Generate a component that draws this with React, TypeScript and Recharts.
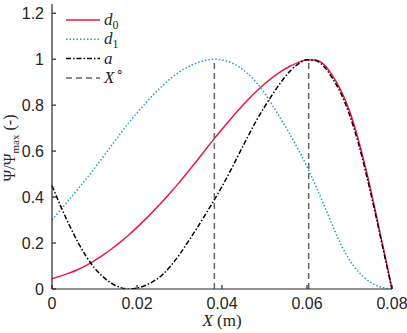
import React from "react";
import { LineChart, Line, XAxis, YAxis, ReferenceLine } from "recharts";

const X_VALUES = [
  0, 0.002, 0.004, 0.006, 0.008, 0.01, 0.012, 0.014, 0.016, 0.018, 0.02, 0.022, 0.024, 0.026,
  0.028, 0.03, 0.032, 0.034, 0.036, 0.038, 0.04, 0.042, 0.044, 0.046, 0.048, 0.05, 0.052, 0.054,
  0.056, 0.058, 0.06, 0.062, 0.064, 0.066, 0.068, 0.07, 0.072, 0.074, 0.076, 0.078, 0.08,
];
const D0 = [
  0.045, 0.056, 0.069, 0.084, 0.102, 0.123, 0.147, 0.174, 0.203, 0.234, 0.268, 0.304, 0.342, 0.381,
  0.422, 0.465, 0.51, 0.556, 0.603, 0.65, 0.695, 0.739, 0.781, 0.821, 0.858, 0.892, 0.922, 0.948,
  0.969, 0.986, 0.997, 0.996, 0.976, 0.928, 0.863, 0.775, 0.655, 0.51, 0.347, 0.175, 0,
];
const D1 = [
  0.3, 0.344, 0.388, 0.433, 0.478, 0.525, 0.574, 0.624, 0.674, 0.722, 0.766, 0.808, 0.848, 0.884,
  0.917, 0.945, 0.966, 0.983, 0.994, 1.0, 0.997, 0.986, 0.966, 0.938, 0.9, 0.852, 0.796, 0.736,
  0.673, 0.605, 0.532, 0.45, 0.365, 0.277, 0.193, 0.127, 0.077, 0.042, 0.018, 0.005, 0,
];
const A = [
  0.45, 0.362, 0.281, 0.207, 0.143, 0.092, 0.053, 0.025, 0.007, 0.0, 0.004, 0.016, 0.035, 0.062,
  0.102, 0.15, 0.205, 0.262, 0.321, 0.382, 0.446, 0.515, 0.588, 0.66, 0.73, 0.792, 0.85, 0.903,
  0.948, 0.98, 0.997, 0.994, 0.968, 0.916, 0.85, 0.758, 0.64, 0.495, 0.335, 0.165, 0,
];
const X_CIRC = [0.0382, 0.0604];
const X_TICKS = [0, 0.02, 0.04, 0.06, 0.08];
const Y_TICKS = [0, 0.2, 0.4, 0.6, 0.8, 1, 1.2];

const data = X_VALUES.map((x, i) => ({ x, d0: D0[i], d1: D1[i], a: A[i] }));

const AXIS = "#262626";
const RED = "#e8184a";
const BLUE = "#1d9fd0";
const GREY = "#666666";
const SANS = "'Liberation Sans', Arial, sans-serif";
const SERIF = "'Liberation Serif', 'Times New Roman', serif";

const BottomTick = ({ x, y, payload }: any) => (
  <g>
    <line x1={x} x2={x} y1={y} y2={y - 4} stroke={AXIS} strokeWidth={1.2} />
    <text x={x} y={y + 20} textAnchor="middle" fontFamily={SANS} fontSize={16} fill={AXIS}>
      {payload.value}
    </text>
  </g>
);

const TopTick = ({ x, y }: any) => (
  <line x1={x} x2={x} y1={y} y2={y + 4} stroke={AXIS} strokeWidth={1.2} />
);

const LeftTick = ({ x, y, payload }: any) => (
  <g>
    <line x1={x} x2={x + 4} y1={y} y2={y} stroke={AXIS} strokeWidth={1.2} />
    <text x={x - 8} y={y} dy="0.36em" textAnchor="end" fontFamily={SANS} fontSize={16} fill={AXIS}>
      {payload.value}
    </text>
  </g>
);

const RightTick = ({ x, y }: any) => (
  <line x1={x} x2={x - 4} y1={y} y2={y} stroke={AXIS} strokeWidth={1.2} />
);

const YLabel = () => (
  <text
    transform="translate(15,148) rotate(-90)"
    textAnchor="middle"
    fontFamily={SERIF}
    fontSize={16}
    fill={AXIS}
  >
    Ψ/Ψ
    <tspan fontSize={11} dy={4}>max</tspan>
    <tspan dy={-4}> (-)</tspan>
  </text>
);

const XLabel = () => (
  <text x={222} y={326} textAnchor="middle" fontFamily={SERIF} fontSize={17} fill={AXIS}>
    <tspan fontStyle="italic">X</tspan> (m)
  </text>
);

const legendItems = [
  { key: "d0", color: RED, dash: undefined, label: "d", sub: "0" },
  { key: "d1", color: BLUE, dash: "1.5 2", label: "d", sub: "1" },
  { key: "a", color: "#000000", dash: "5 2 1.5 2", label: "a", sub: "" },
  { key: "xc", color: GREY, dash: "6 4", label: "X", sub: "" },
];

const ChartLegend = () => (
  <svg width={90} height={90} style={{ position: "absolute", left: 60, top: 8 }}>
    {legendItems.map((item, i) => {
      const cy = 12 + i * 19.3;
      return (
        <g key={item.key}>
          <line x1={6} x2={40} y1={cy} y2={cy} stroke={item.color} strokeWidth={1.5} strokeDasharray={item.dash} />
          <text x={44} y={cy + 5} fontFamily={SERIF} fontSize={17} fill={AXIS}>
            <tspan fontStyle="italic">{item.label}</tspan>
            {item.sub && (
              <tspan fontSize={12} dy={4}>
                {item.sub}
              </tspan>
            )}
            {item.key === "xc" && (
              <tspan fontSize={12} dy={-7} dx={2}>
                ∘
              </tspan>
            )}
          </text>
        </g>
      );
    })}
  </svg>
);

export default function App() {
  return (
    <div style={{ position: "absolute", left: 0, top: 0, width: 407, height: 333, background: "#fff" }}>
      <LineChart width={407} height={333} data={data} margin={{ top: 4, right: 15, bottom: 4, left: 8 }}>
        <XAxis
          dataKey="x"
          type="number"
          domain={[0, 0.08]}
          ticks={X_TICKS}
          tick={<BottomTick />}
          tickLine={false}
          tickSize={0}
          tickMargin={0}
          height={40}
          stroke={AXIS}
          strokeWidth={1.2}
          label={<XLabel />}
        />
        <XAxis
          xAxisId="top"
          orientation="top"
          dataKey="x"
          type="number"
          domain={[0, 0.08]}
          ticks={X_TICKS}
          tick={<TopTick />}
          tickLine={false}
          tickSize={0}
          tickMargin={0}
          height={0}
          stroke={AXIS}
          strokeWidth={1.2}
        />
        <YAxis
          type="number"
          domain={[0, 1.24]}
          ticks={Y_TICKS}
          tick={<LeftTick />}
          tickLine={false}
          tickSize={0}
          tickMargin={0}
          width={44}
          stroke={AXIS}
          strokeWidth={1.2}
          allowDataOverflow
          label={<YLabel />}
        />
        <YAxis
          yAxisId="right"
          orientation="right"
          type="number"
          domain={[0, 1.24]}
          ticks={Y_TICKS}
          tick={<RightTick />}
          tickLine={false}
          tickSize={0}
          tickMargin={0}
          width={0}
          stroke={AXIS}
          strokeWidth={1.2}
          allowDataOverflow
        />
        <Line dataKey="d0" type="monotone" stroke={RED} strokeWidth={1.5} dot={false} isAnimationActive={false} />
        <Line
          dataKey="d1"
          type="monotone"
          stroke={BLUE}
          strokeWidth={1.5}
          strokeDasharray="1.5 2"
          dot={false}
          isAnimationActive={false}
        />
        <Line
          dataKey="a"
          type="monotone"
          stroke="#000000"
          strokeWidth={1.5}
          strokeDasharray="5 2 1.5 2"
          dot={false}
          isAnimationActive={false}
        />
        {X_CIRC.map((xc) => (
          <ReferenceLine
            key={xc}
            segment={[
              { x: xc, y: 0 },
              { x: xc, y: 1 },
            ]}
            stroke={GREY}
            strokeWidth={1.5}
            strokeDasharray="6 4"
          />
        ))}
      </LineChart>
      <ChartLegend />
    </div>
  );
}
